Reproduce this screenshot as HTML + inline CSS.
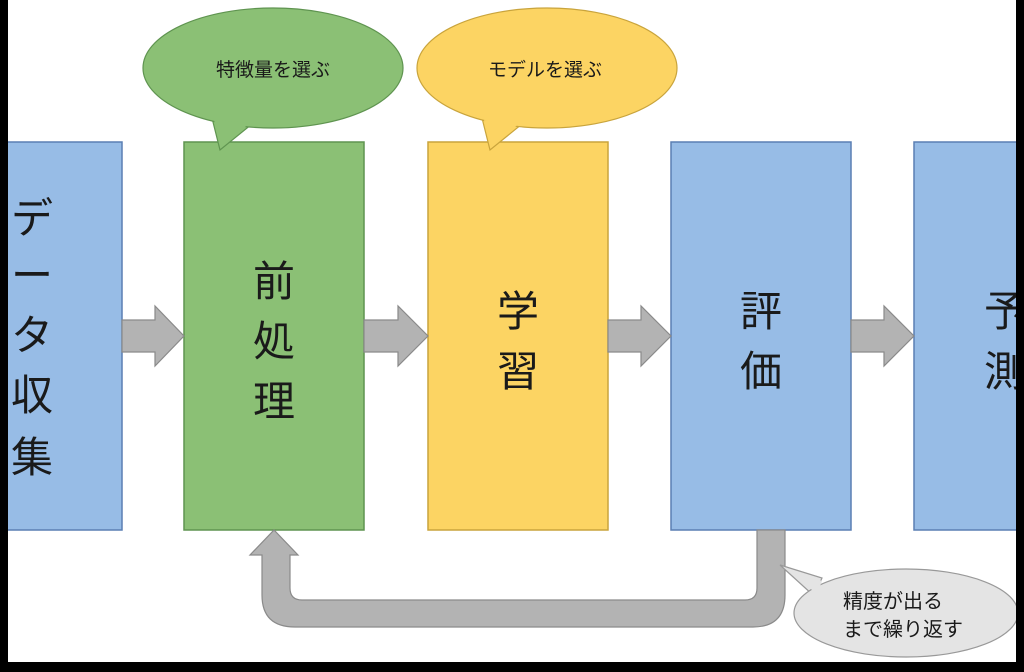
<!DOCTYPE html>
<html><head><meta charset="utf-8"><style>
html,body{margin:0;padding:0;width:1024px;height:672px;overflow:hidden;background:#000}
svg{display:block}
text{font-family:"Liberation Sans","Noto Sans CJK JP",sans-serif;fill:#1a1a1a}
</style></head><body>
<svg width="1024" height="672" viewBox="0 0 1024 672">
<rect x="8" y="0" width="1008" height="662" fill="#fff"/>
<!-- boxes -->
<rect x="-10" y="142" width="132" height="388" fill="#97bce6" stroke="#5a7fb3" stroke-width="1.5"/>
<rect x="184" y="142" width="180" height="388" fill="#8bc075" stroke="#5f9450" stroke-width="1.5"/>
<rect x="428" y="142" width="180" height="388" fill="#fcd463" stroke="#c9a43c" stroke-width="1.5"/>
<rect x="671" y="142" width="180" height="388" fill="#97bce6" stroke="#5a7fb3" stroke-width="1.5"/>
<rect x="914" y="142" width="120" height="388" fill="#97bce6" stroke="#5a7fb3" stroke-width="1.5"/>
<!-- arrows -->
<g fill="#b3b3b3" stroke="#8a8a8a" stroke-width="1.2">
<polygon points="122,320 155,320 155,306 184,336 155,366 155,352 122,352"/>
<polygon points="364,320 398,320 398,306 428,336 398,366 398,352 364,352"/>
<polygon points="608,320 641,320 641,306 671,336 641,366 641,352 608,352"/>
<polygon points="851,320 884,320 884,306 914,336 884,366 884,352 851,352"/>
<path d="M757,530 L785,530 L785,595 Q785,627 753,627 L295,627 Q262,627 262,595 L262,555 L250,555 L274,530 L298,555 L290,555 L290,588 Q290,600 302,600 L745,600 Q757,600 757,588 Z"/>
</g>
<!-- callouts -->
<polygon points="220,150 212,118 252,124" fill="#8bc075" stroke="#5f9450" stroke-width="1.2"/>
<ellipse cx="273" cy="68" rx="130" ry="60" fill="#8bc075" stroke="#5f9450" stroke-width="1.2"/>
<polygon points="221,146 214,120 250,123" fill="#8bc075"/>
<polygon points="490,150 482,118 522,124" fill="#fcd463" stroke="#c9a43c" stroke-width="1.2"/>
<ellipse cx="547" cy="68" rx="130" ry="60" fill="#fcd463" stroke="#c9a43c" stroke-width="1.2"/>
<polygon points="491,146 484,120 520,123" fill="#fcd463"/>
<polygon points="780,565 822,578 814,596" fill="#e4e4e4" stroke="#999" stroke-width="1.2"/>
<ellipse cx="906" cy="613" rx="112" ry="44" fill="#e4e4e4" stroke="#999" stroke-width="1.2"/>
<polygon points="784,567 822,581 817,594" fill="#e4e4e4"/>
<text x="273" y="76" font-size="19" text-anchor="middle">特徴量を選ぶ</text>
<text x="545" y="76" font-size="19" text-anchor="middle">モデルを選ぶ</text>
<text x="843" y="608" font-size="20">精度が出る</text>
<text x="843" y="636" font-size="20">まで繰り返す</text>
<!-- box labels -->
<g font-size="42">
<text x="32" y="233" text-anchor="middle">デ</text>
<text x="32" y="290" text-anchor="middle">ー</text>
<text x="32" y="350" text-anchor="middle">タ</text>
<text x="32" y="410" text-anchor="middle">収</text>
<text x="32" y="472" text-anchor="middle">集</text>
<text x="274" y="296" text-anchor="middle">前</text>
<text x="274" y="356" text-anchor="middle">処</text>
<text x="274" y="416" text-anchor="middle">理</text>
<text x="518" y="326" text-anchor="middle">学</text>
<text x="518" y="386" text-anchor="middle">習</text>
<text x="761" y="326" text-anchor="middle">評</text>
<text x="761" y="386" text-anchor="middle">価</text>
<text x="1005" y="326" text-anchor="middle">予</text>
<text x="1005" y="386" text-anchor="middle">測</text>
</g>
<rect x="0" y="0" width="8" height="672" fill="#000"/>
<rect x="1016" y="0" width="8" height="672" fill="#000"/>
<rect x="0" y="662" width="1024" height="10" fill="#000"/>
</svg>
</body></html>
